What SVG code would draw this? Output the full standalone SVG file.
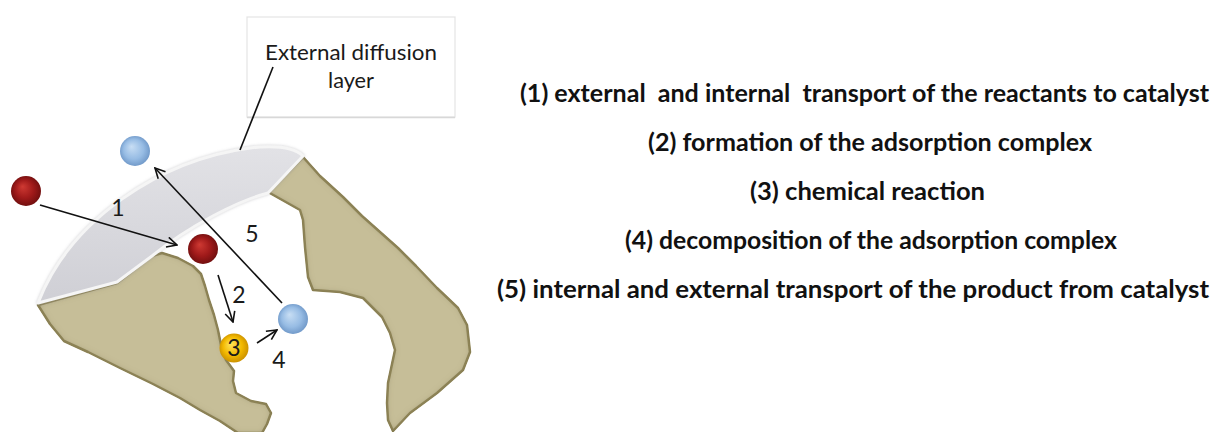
<svg xmlns="http://www.w3.org/2000/svg" width="1218" height="432" viewBox="0 0 1218 432">
  <defs>
    <style>
      .lbl { font-family: Lato, "Open Sans", "Liberation Sans", sans-serif; fill: #1a1a1a; }
      .num { font-family: Lato, "Open Sans", "Liberation Sans", sans-serif; font-size: 23px; fill: #1a1a1a; text-anchor: middle; }
      .step { font-family: Lato, "Open Sans", "Liberation Sans", sans-serif; font-weight: bold; font-size: 24px; fill: #111; white-space: pre; }
      .end { text-anchor: end; }
      .wire { stroke: #111; stroke-width: 1.6; fill: none; }
      .grain { fill: #c6be98; stroke: #948a5c; stroke-width: 2.5; stroke-linejoin: round; }
      .film { fill: url(#filmFill); stroke: #f5f5f5; stroke-width: 3; stroke-linejoin: round; }
    </style>
    <marker id="head" viewBox="0 0 12 12" refX="11" refY="6" markerWidth="12" markerHeight="12" markerUnits="userSpaceOnUse" orient="auto">
      <path d="M1,1 L11,6 L1,11" fill="none" stroke="#111" stroke-width="1.6"/>
    </marker>
    <linearGradient id="filmFill" x1="0" y1="0" x2="0" y2="1">
      <stop offset="0" stop-color="#e2e2e6"/>
      <stop offset="1" stop-color="#cfcfd5"/>
    </linearGradient>
    <radialGradient id="red" cx="0.5" cy="0.5" r="0.55" fx="0.38" fy="0.35">
      <stop offset="0" stop-color="#cf3a33"/>
      <stop offset="0.55" stop-color="#a01a1a"/>
      <stop offset="1" stop-color="#6a0d0d"/>
    </radialGradient>
    <radialGradient id="blue" cx="0.5" cy="0.5" r="0.55" fx="0.38" fy="0.35">
      <stop offset="0" stop-color="#c8def4"/>
      <stop offset="0.6" stop-color="#97bce4"/>
      <stop offset="1" stop-color="#6a93c4"/>
    </radialGradient>
    <radialGradient id="gold" cx="0.5" cy="0.5" r="0.55" fx="0.38" fy="0.35">
      <stop offset="0" stop-color="#ffe55a"/>
      <stop offset="0.6" stop-color="#f2b800"/>
      <stop offset="1" stop-color="#c48a00"/>
    </radialGradient>
    <!-- soft inner shading along the grain rims -->
    <filter id="inset" x="-10%" y="-10%" width="120%" height="120%">
      <feGaussianBlur in="SourceAlpha" stdDeviation="3" result="b"/>
      <feComposite in="SourceAlpha" in2="b" operator="arithmetic" k2="1" k3="-1" result="edge"/>
      <feFlood flood-color="#6d6440" flood-opacity="0.7"/>
      <feComposite in2="edge" operator="in" result="shade"/>
      <feMerge><feMergeNode in="SourceGraphic"/><feMergeNode in="shade"/></feMerge>
    </filter>
    <filter id="halo" x="-10%" y="-10%" width="120%" height="120%">
      <feGaussianBlur in="SourceAlpha" stdDeviation="1.5" result="b"/>
      <feFlood flood-color="#9a9aa0" flood-opacity="0.5"/>
      <feComposite in2="b" operator="in" result="s"/>
      <feMerge><feMergeNode in="s"/><feMergeNode in="SourceGraphic"/></feMerge>
    </filter>
  </defs>

  <rect width="1218" height="432" fill="#ffffff"/>

  <!-- callout box -->
  <g id="callout">
    <rect x="247" y="17" width="208" height="100" fill="#ffffff" stroke="#e4e4e4" stroke-width="1.2"/>
    <line x1="247" y1="117.5" x2="455" y2="117.5" stroke="#d8d8d8" stroke-width="1.5"/>
    <text class="lbl" x="265" y="60" font-size="22" textLength="172" lengthAdjust="spacingAndGlyphs">External diffusion</text>
    <text class="lbl" x="328" y="88" font-size="22" textLength="46" lengthAdjust="spacingAndGlyphs">layer</text>
  </g>

  <!-- catalyst grains -->
  <g id="grain-left" filter="url(#inset)">
    <path class="grain" d="M38,305 L117,283 L152,256 L162,253 L178,258 L193,266 L201,274 L205,286 L209,300 L214,315 L218,330 L221,345 L226,360 L234,371 L233,381 L236,393 L251,401 L266,404 L271,413 L267,424 L262,433 L238,433 L220,421 L200,410 L180,398 L153,384 L120,368 L88,352 L64,341 L50,324 Z"/>
  </g>
  <g id="grain-right" filter="url(#inset)">
    <path class="grain" d="M303,157 L320,176 L343,197 L362,216 L380,232 L398,248 L416,266 L437,288 L458,308 L467,325 L470,352 L463,370 L437,393 L410,413 L393,431 L388,420 L387,403 L388,383 L395,350 L390,333 L382,317 L363,298 L340,292 L313,290 L308,277 L305,247 L303,220 L300,210 L268,192 Z"/>
  </g>

  <!-- external diffusion film -->
  <g id="film" filter="url(#halo)">
    <path class="film" d="M38,303 C70,220 160,160 250,148 C278,145 295,148 303,156 L268,193 C240,200 190,225 152,256 L117,282 Z"/>
  </g>

  <!-- connectors -->
  <g id="connectors">
    <line class="wire" x1="273" y1="67" x2="240" y2="150"/>
    <line class="wire" x1="40" y1="205" x2="177" y2="245" marker-end="url(#head)"/>
    <line class="wire" x1="282" y1="303" x2="155" y2="168" marker-end="url(#head)"/>
    <line class="wire" x1="218" y1="275" x2="233" y2="322" marker-end="url(#head)"/>
    <line class="wire" x1="257" y1="343" x2="277" y2="330" marker-end="url(#head)"/>
  </g>

  <!-- molecules -->
  <g id="reactant-out"><circle cx="26" cy="191" r="15" fill="url(#red)"/></g>
  <g id="product-out"><circle cx="135" cy="151" r="15" fill="url(#blue)"/></g>
  <g id="reactant-in"><circle cx="203" cy="249" r="15" fill="url(#red)"/></g>
  <g id="product-in"><circle cx="293" cy="319" r="15" fill="url(#blue)"/></g>
  <g id="complex">
    <circle cx="234" cy="348" r="14.5" fill="url(#gold)"/>
    <text class="num" x="234" y="356">3</text>
  </g>

  <!-- step numbers -->
  <g id="step-numbers">
    <text class="num" x="118" y="216">1</text>
    <text class="num" x="239" y="303">2</text>
    <text class="num" x="279" y="368">4</text>
    <text class="num" x="252" y="242">5</text>
  </g>

  <!-- legend -->
  <g id="legend">
    <text class="step end" x="1209" y="102" textLength="689" lengthAdjust="spacingAndGlyphs">(1) external  and internal  transport of the reactants to catalyst</text>
    <text class="step" x="648" y="151" textLength="444" lengthAdjust="spacingAndGlyphs">(2) formation of the adsorption complex</text>
    <text class="step" x="750" y="200" textLength="235" lengthAdjust="spacingAndGlyphs">(3) chemical reaction</text>
    <text class="step" x="625" y="249" textLength="492" lengthAdjust="spacingAndGlyphs">(4) decomposition of the adsorption complex</text>
    <text class="step end" x="1209" y="298" textLength="712" lengthAdjust="spacingAndGlyphs">(5) internal and external transport of the product from catalyst</text>
  </g>
</svg>
